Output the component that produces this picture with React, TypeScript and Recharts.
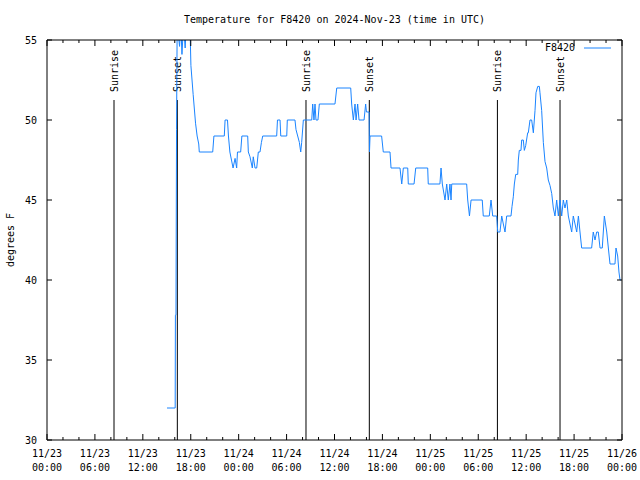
import React from 'react';
import { LineChart, Line, XAxis, YAxis, ReferenceLine, Legend } from 'recharts';

const FONT = '"DejaVu Sans Mono", monospace';

// hours since 2024-11-23 00:00 UTC
const hours = [
  15.03, 16.05, 16.08, 16.15, 16.22, 16.3, 16.6, 16.75, 16.9, 17.1, 17.3, 17.5, 17.9, 18.02, 18.3, 18.6, 18.8, 19.0, 19.07,
  20.75, 20.9, 22.2, 22.3, 22.6, 22.72, 22.9, 23.1, 23.3, 23.55, 23.75, 23.85, 24.25, 24.4, 25.13, 25.21, 25.42, 25.71,
  25.83, 26.05, 26.26, 26.46, 26.67, 26.85, 27.01, 28.76, 28.86, 29.18, 29.27, 30.02, 30.09, 31.05, 31.18, 31.6, 31.77,
  31.89, 32.1, 33.15, 33.27, 33.43, 33.56, 33.68, 33.93, 34.1, 36.06, 36.28, 38.03, 38.15, 38.36, 38.57, 38.7, 38.9,
  39.07, 39.7, 39.9, 40.0, 40.33, 40.38, 40.45, 41.9, 42.11, 42.95, 43.08, 44.2, 44.42, 44.62, 45.17, 45.24, 45.96,
  46.17, 47.67, 47.74, 49.2, 49.34, 49.5, 49.84, 50.05, 50.25, 50.46, 50.59, 50.68, 52.55, 52.68, 52.9, 53.1, 54.5,
  54.63, 55.38, 55.6, 55.81, 56.31, 56.44, 56.72, 56.94, 57.14, 57.35, 57.56, 58.1, 58.23, 58.39, 58.52, 58.69, 58.94,
  59.02, 59.14, 59.35, 59.44, 59.64, 59.77, 59.94, 60.19, 60.27, 60.48, 60.69, 60.9, 61.11, 61.23, 61.45, 61.65, 61.73,
  61.94, 62.15, 62.36, 62.57, 62.77, 62.99, 63.2, 63.4, 63.61, 63.82, 64.03, 64.24, 64.45, 64.65, 64.86, 65.08, 65.28,
  65.49, 65.7, 65.9, 66.12, 66.33, 66.54, 66.74, 66.95, 68.2, 68.4, 68.62, 68.83, 69.03, 69.25, 69.53, 69.79, 70.09,
  70.29, 70.5, 71.12, 71.25, 71.46, 71.62, 71.75, 71.85,
];

const temps = [
  32, 32, 37.8, 37.8, 49.4, 56, 54.6, 56, 54.1, 56, 54.5, 56.5, 56, 53.4, 51.6, 49.8, 49, 48.5, 48,
  48, 49, 49, 50, 50, 49, 48, 47.5, 47, 47.6, 47, 48, 48, 49, 49, 48, 47.7, 47,
  47.7, 47, 47, 48, 48, 48.6, 49, 49, 50, 50, 49, 49, 50, 50, 49.4, 48.6, 48,
  48.6, 50, 50, 51, 50, 51, 50, 50, 51, 51, 52, 52, 51, 50, 51, 50, 51,
  50, 50, 51, 50.5, 50.5, 48, 49, 49, 48, 48, 47, 47, 46, 47, 47, 46, 46,
  47, 47, 46, 46, 47, 46, 45, 46, 45, 46, 45, 46, 46, 45, 44, 45, 45,
  44, 44, 45, 44, 44, 43, 43, 44, 43.5, 43, 44, 44, 44.6, 45.2, 46, 46.6, 46.6,
  47.5, 48.1, 48.1, 48.75, 48.75, 48.1, 48.4, 49.2, 49.2, 50, 50, 49.2, 50.6, 51.7, 52.1, 52.1, 51.7,
  50.6, 48.6, 47.4, 47, 46.25, 45.9, 45.4, 44.5, 44, 45, 44, 45, 44, 45, 44.5, 45, 44,
  43.5, 43, 44, 43.5, 43, 44, 43, 42, 42, 43, 42.5, 43, 43, 42, 42, 44, 43,
  42, 41, 41, 42, 41.5, 40.5, 40, 40,
];

// x ticks every 2 hours, labelled every 6
const xTicks = [
  0, 2, 4, 6, 8, 10, 12, 14, 16, 18, 20, 22, 24, 26, 28, 30, 32, 34, 36,
  38, 40, 42, 44, 46, 48, 50, 52, 54, 56, 58, 60, 62, 64, 66, 68, 70, 72,
];
const majorTicks = [0, 6, 12, 18, 24, 30, 36, 42, 48, 54, 60, 66, 72];
const tickDates = ['11/23', '11/23', '11/23', '11/23', '11/24', '11/24', '11/24', '11/24', '11/25', '11/25', '11/25', '11/25', '11/26'];
const tickTimes = ['00:00', '06:00', '12:00', '18:00', '00:00', '06:00', '12:00', '18:00', '00:00', '06:00', '12:00', '18:00', '00:00'];
const yTicks = [30, 35, 40, 45, 50, 55];

const sunNames = ['Sunrise', 'Sunset', 'Sunrise', 'Sunset', 'Sunrise', 'Sunset'];
const sunHours = [8.39, 16.32, 32.43, 40.36, 56.4, 64.24];
const sunLineTop = 51.25;

const data = hours.map((h, i) => ({ h, temp: temps[i] }));

const LINE_COLOR = '#1a84ff';
const MAJOR_LEN = 6;
const MINOR_LEN = 3;
const X_GAP = 8;

function BottomTick({ x, y, payload }: any) {
  const i = majorTicks.indexOf(payload.value);
  const axisY = y - X_GAP;
  return (
    <g>
      <line x1={x} y1={axisY} x2={x} y2={axisY - (i >= 0 ? MAJOR_LEN : MINOR_LEN)} stroke="#000" />
      {i >= 0 && (
        <text x={x} y={y} textAnchor="middle" fontFamily={FONT} fontSize={10} fill="#000">
          <tspan x={x} dy={9}>{tickDates[i]}</tspan>
          <tspan x={x} dy={14}>{tickTimes[i]}</tspan>
        </text>
      )}
    </g>
  );
}

function TopTick({ x, y, payload }: any) {
  const major = majorTicks.indexOf(payload.value) >= 0;
  return <line x1={x} y1={y} x2={x} y2={y + (major ? MAJOR_LEN : MINOR_LEN)} stroke="#000" />;
}

function LeftTick({ x, y, payload }: any) {
  const axisX = x + 10;
  return (
    <g>
      <line x1={axisX} y1={y} x2={axisX + 5} y2={y} stroke="#000" />
      <text x={x} y={y} dy={4} textAnchor="end" fontFamily={FONT} fontSize={10} fill="#000">
        {payload.value}
      </text>
    </g>
  );
}

function RightTick({ x, y }: any) {
  return <line x1={x} y1={y} x2={x - 5} y2={y} stroke="#000" />;
}

function SunLabel({ viewBox, text }: any) {
  const x = viewBox.x + 4;
  const y = viewBox.y - 8;
  return (
    <text x={x} y={y} transform={`rotate(-90 ${x} ${y})`} fontFamily={FONT} fontSize={10} fill="#000">
      {text}
    </text>
  );
}

function YLabel({ viewBox }: any) {
  const x = 14;
  const y = viewBox.y + viewBox.height / 2;
  return (
    <text x={x} y={y} transform={`rotate(-90 ${x} ${y})`} textAnchor="middle" fontFamily={FONT} fontSize={10} fill="#000">
      degrees F
    </text>
  );
}

function LegendBox() {
  return (
    <div style={{ display: 'flex', alignItems: 'center', fontFamily: FONT, fontSize: 10, color: '#000' }}>
      <span>F8420</span>
      <svg width={36} height={10} style={{ marginLeft: 9 }}>
        <line x1={0} y1={5} x2={27} y2={5} stroke={LINE_COLOR} strokeWidth={1} />
      </svg>
    </div>
  );
}

export default function App() {
  return (
    <div style={{ position: 'relative', width: 640, height: 480, background: '#fff' }}>
      <style>{'body{margin:0}'}</style>
      <div
        style={{
          position: 'absolute',
          top: 14,
          left: 0,
          width: 669,
          textAlign: 'center',
          fontFamily: FONT,
          fontSize: 10,
          color: '#000',
        }}
      >
        Temperature for F8420 on 2024-Nov-23 (time in UTC)
      </div>
      <LineChart width={640} height={480} data={data} margin={{ top: 39, right: 17, bottom: 0, left: 7 }}>
        <XAxis
          xAxisId="b"
          dataKey="h"
          type="number"
          domain={[0, 72]}
          ticks={xTicks}
          interval={0}
          height={40}
          stroke="#000"
          tickLine={false}
          tickSize={0}
          tickMargin={X_GAP}
          tick={<BottomTick />}
          allowDataOverflow
        />
        <XAxis
          xAxisId="t"
          orientation="top"
          dataKey="h"
          type="number"
          domain={[0, 72]}
          ticks={xTicks}
          interval={0}
          height={1}
          stroke="#000"
          tickLine={false}
          tickSize={0}
          tickMargin={0}
          tick={<TopTick />}
          allowDataOverflow
        />
        <YAxis
          yAxisId="l"
          type="number"
          domain={[30, 55]}
          ticks={yTicks}
          interval={0}
          width={40}
          stroke="#000"
          tickLine={false}
          tickSize={0}
          tickMargin={10}
          tick={<LeftTick />}
          label={<YLabel />}
          allowDataOverflow
        />
        <YAxis
          yAxisId="r"
          orientation="right"
          type="number"
          domain={[30, 55]}
          ticks={yTicks}
          interval={0}
          width={1}
          stroke="#000"
          tickLine={false}
          tickSize={0}
          tickMargin={0}
          tick={<RightTick />}
          allowDataOverflow
        />
        <Legend
          layout="vertical"
          align="center"
          verticalAlign="middle"
          wrapperStyle={{ top: 42, left: 545, width: 80 }}
          content={<LegendBox />}
        />
        {sunHours.map((h, i) => (
          <ReferenceLine
            key={i}
            xAxisId="b"
            yAxisId="l"
            segment={[{ x: h, y: 30 }, { x: h, y: sunLineTop }]}
            stroke="#000"
            strokeWidth={1}
            label={<SunLabel text={sunNames[i]} />}
          />
        ))}
        <Line
          xAxisId="b"
          yAxisId="l"
          type="linear"
          dataKey="temp"
          stroke={LINE_COLOR}
          strokeWidth={1}
          dot={false}
          isAnimationActive={false}
          legendType="line"
        />
      </LineChart>
    </div>
  );
}
